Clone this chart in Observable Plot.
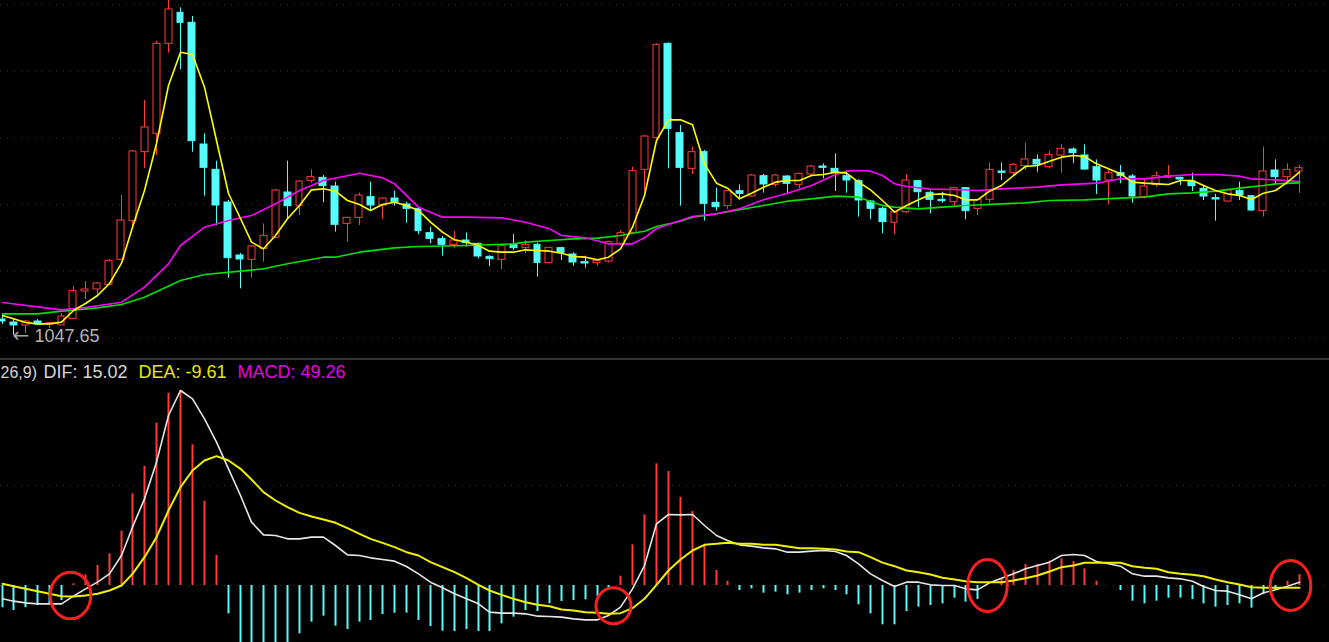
<!DOCTYPE html>
<html><head><meta charset="utf-8">
<script src="https://cdn.jsdelivr.net/npm/d3@7"></script>
<script src="https://cdn.jsdelivr.net/npm/@observablehq/plot@0.6"></script>
<style>
html,body{margin:0;padding:0;background:#000;overflow:hidden}
#wrap{width:1329px;height:642px;background:#000;overflow:hidden}
#wrap svg{display:block}
.sep{height:2px;background:#333}
</style></head>
<body><div id="wrap"></div>
<script>
// ---- candles (one per session, index 0..109)
const open = [1071.5,1067,1062.5,1068.5,1064,1062.5,1072.5,1113.5,1116.5,1123.5, 1161,1219,1322.5,1350,1485,1531.5,1516.5,1334,1296,1247, 1167.5,1161,1177.5,1194,1262,1241.5,1279.5,1284,1271,1215, 1224,1255,1242.5,1253,1244,1237.5,1201,1192,1183.5,1190, 1185,1165.5,1161,1183.5,1178.5,1183.5,1156,1178.5,1169,1157.5, 1156,1158.5,1185,1201.5,1296,1343.5,1485,1351,1297.5,1322.5, 1246.5,1241.5,1264,1256,1286.5,1273.5,1286,1273.5,1289,1301, 1297.5,1286.5,1279,1248.5,1237.5,1216.5,1232.5,1279,1261.5,1251, 1247.5,1268.5,1237.5,1251,1293.5,1291,1301.5,1311,1300,1317.5, 1326.5,1317.5,1300,1280,1291,1286,1255,1273.5,1284,1284, 1278.5,1267.5,1253.5,1248.5,1264,1256.5,1234,1295,1285,1293.5];
const high = [1079,1073,1070,1071.5,1067,1080.5,1121,1128.5,1127,1161.5, 1257.5,1325,1400,1489,1555,1539,1526,1350,1309,1250, 1170.5,1182.5,1215,1266,1309,1280,1296,1287.5,1277.5,1225, 1261,1277.5,1254,1264,1247.5,1240,1210,1196,1203.5,1201.5, 1186,1167,1182.5,1199,1190,1186,1180,1180,1171.5,1166.5, 1161.5,1189,1205,1300,1347.5,1485,1486.5,1362.5,1330,1325, 1268.5,1265,1273.5,1289,1289,1289,1287.5,1291,1302.5,1305, 1320,1292.5,1281,1250,1240,1234,1289,1280,1264,1262.5, 1270,1269.5,1251.5,1306.5,1306.5,1305.5,1336,1318.5,1324,1333.5, 1329,1333.5,1311,1295,1302.5,1289,1280,1292.5,1302.5,1285, 1291,1271,1259,1267.5,1277.5,1257.5,1330,1311,1305,1302.5];
const low = [1064,1047.65,1050.5,1062.5,1058,1062.5,1072.5,1101.5,1107.5,1122.5, 1160,1208,1298,1317.5,1471,1446,1322.5,1256.5,1212,1133.5, 1117.5,1133.5,1157.5,1192.5,1221.5,1227.5,1276,1246.5,1202.5,1187.5, 1212.5,1233.5,1221,1241.5,1216,1198.5,1185,1166.5,1177.5,1180, 1162.5,1151,1146.5,1175,1170,1135,1155,1160,1151.5,1148.5, 1151.5,1156,1182.5,1200,1262.5,1342.5,1297.5,1241.5,1289,1219, 1234,1236.5,1251,1255,1261,1270,1260,1267.5,1287.5,1282.5, 1263.5,1261,1225,1221,1200,1198.5,1230,1239,1230,1246, 1242.5,1221,1227.5,1245,1280,1285,1295,1292.5,1297.5,1291, 1305,1295,1259,1243.5,1275,1246,1252.5,1270,1282.5,1272.5, 1263.5,1250,1219,1247.5,1250,1234,1225,1273.5,1280,1261];
const close = [1068.5,1062.5,1068.5,1064,1066,1076,1114,1116.5,1125.5,1159, 1220,1323.5,1359.5,1485,1536.5,1516.5,1339,1299,1242.5,1163.5, 1161.5,1181,1197,1265,1241.5,1278.5,1285,1271.5,1213.5,1224, 1257.5,1242.5,1253,1247.5,1237.5,1204,1192.5,1183.5,1190,1186, 1166,1162,1181.5,1178.5,1183.5,1156.5,1179,1171.5,1157,1155.5, 1159.5,1187.5,1201,1294,1346,1483.5,1357.5,1299,1322.5,1245, 1240,1264,1260,1287.5,1274,1287.5,1275,1290,1301,1299, 1291,1280,1250,1237.5,1217.5,1232.5,1280,1262.5,1251,1249, 1268.5,1234,1251,1296,1291.5,1303.5,1311.5,1304,1318.5,1327.5, 1321,1296.5,1280,1291,1286.5,1256,1271,1286.5,1286.5,1281.5, 1271.5,1256,1251.5,1265,1257.5,1235,1293.5,1285,1296,1298.5];

// ---- moving averages
const ma5 = [1077.5,1072.5,1067,1065,1065,1067.5,1085,1095.5,1107.5,1125.5, 1156,1210,1265,1335.5,1422.5,1472.5,1469,1420,1340,1260.5, 1223,1187.5,1177.5,1197.5,1222.5,1242.5,1266,1267.5,1264,1250, 1244,1235,1244,1247.5,1242.5,1235,1217.5,1202.5,1191,1187.5, 1182.5,1174,1172.5,1172.5,1176,1175,1174,1171,1166,1165, 1161,1165,1177.5,1210,1257.5,1340,1371,1371,1363.5,1305, 1276,1268.5,1252.5,1261,1270,1277.5,1280,1280,1287.5,1289, 1292.5,1291,1277.5,1266,1250,1232.5,1242.5,1251,1259,1260, 1257.5,1251,1251,1264,1272.5,1287.5,1301,1302.5,1309,1315, 1317.5,1316,1305,1297.5,1290,1277.5,1276,1275,1274,1280, 1280,1272.5,1265,1260,1257.5,1251.5,1261,1265,1277.5,1292.5];
const maMidIdx = [0,5,7,10,12,14,15,17,19,21,23,25,27,30,32,33,35,37,39,42,44,46,47,49,51,53,54,55,58,60,62,64,66,68,70,71,72,73,74,75,76,78,80,82,84,87,89,92,94,96,98,100,102,104,105,107,109];
const maMidVal = [1097,1086,1089.5,1097.5,1120,1155,1182.5,1210,1220,1227.5,1245,1265,1280,1291,1284,1275,1240,1225,1225,1224,1217.5,1207.5,1197.5,1194,1185,1185,1194,1208,1226,1230,1237.5,1251,1261,1272.5,1289,1294,1295,1294,1287.5,1275,1271,1267,1266.5,1265,1267.5,1270,1273.5,1276,1282.5,1282.5,1286.5,1289,1289,1286.5,1282.5,1281,1278.5];
const maLongIdx = [0,3,5,8,10,12,15,17,20,22,24,27,28,30,33,35,39,43,44,46,48,50,52,53,54,55,57,58,60,62,64,66,68,70,72,73,74,75,77,79,81,84,86,88,91,94,96,98,100,102,104,106,107,109];
const maLongVal = [1080,1080,1084,1089,1094,1105,1130,1139,1144,1147.5,1155,1165,1165,1172.5,1179,1181,1182.5,1185,1187.5,1190,1192.5,1193.5,1197.5,1201,1204,1211,1219,1225,1230,1236,1242.5,1249,1252.5,1256.5,1255,1248.5,1242.5,1240,1237.5,1240,1242.5,1245,1246.5,1250,1251,1253.5,1255,1260,1261.5,1264,1268.5,1272.5,1275,1276.5];
const priceGrid = [1044,1144,1244,1344,1444,1544];

// ---- MACD(12,26,9)
const dif = [-60,-70.5,-78,-82.5,-82.5,-82.5,-48,-15,15,52.5, 135,262.5,390,555,765,877.5,840,750,645,525, 405,285,228,225,210,210,217.5,217.5,180,138, 135,124.5,117,109.5,85.5,52.5,15,-10.5,-37.5,-60, -82.5,-120,-124.5,-124.5,-127.5,-138,-139.5,-142.5,-150,-154.5, -154.5,-135,-97.5,-15,90,277.5,319.5,318,319.5,270, 225,202.5,183,177,169.5,165,150,150,154.5,157.5, 153,135,97.5,52.5,22.5,-4.5,15,15,3,0, 0,-15,-19.5,12,33,52.5,75,90,105,135, 139.5,135,108,97.5,87,52.5,42,42,34.5,30, 19.5,-4.5,-22.5,-25.5,-42,-60,-33,-19.5,-3,15.02];
const dea = [7.5,-3,-15,-25.5,-37.5,-48,-49.5,-45,-37.5,-22.5, 0,52.5,127.5,217.5,337.5,442.5,517.5,562.5,582,562.5, 525,477,420,382.5,352.5,327,310.5,297,282,258, 232.5,210,192,172.5,150,135,105,82.5,60,33, 3,-22.5,-42,-60,-75,-87,-93,-108,-112.5,-120, -123,-127.5,-124.5,-102,-60,3,67.5,117,157.5,183, 187.5,192,187.5,187.5,183,183,175.5,168,168,165, 162,153,150,127.5,103,87,67.5,60,49.5,34.5, 27,19.5,15,15,15,22.5,33,45,63,82.5, 90,102,102,102,102,87,79.5,75,60,52.5, 48,42,27,15,4.5,-7.5,-10.5,-10.5,-10.5,-9.61];
const macd = [-100,-112.5,-100,-90,-82.5,-67.5,7.5,48,90,142.5, 244.5,412.5,535.5,730.5,865.5,877.5,633,379.5,135,-127.5, -270,-324,-369,-324,-283.5,-217.5,-165,-138,-183,-198, -165,-157.5,-130.5,-124.5,-124.5,-157.5,-184.5,-205.5,-207,-198, -207,-207,-172.5,-142.5,-112.5,-117,-82.5,-72,-67.5,-64.5, -48,-10.5,42,183,318,547.5,513,397.5,333,183, 67.5,19.5,-22.5,-15,-34.5,-30,-42,-34.5,-22.5,-15, -22.5,-42,-87,-127.5,-177,-177,-117,-97.5,-90,-82.5, -57,-75,-63,0,27,67.5,94.5,94.5,109.5,120, 108,75,19.5,0,-22.5,-70.5,-82.5,-70.5,-57,-57, -63,-82.5,-97.5,-90,-82.5,-102,-40.5,-19.5,19.5,49.26];
const macdGrid = [0, 450];
// golden-cross annotations (index, MACD value)
const crossIdx = [5.73, 51.35, 82.8, 108.3];
const crossVal = [-45, -91, 0, 0];

// ---- build tables
const RED = "#ff3b3b", CYAN = "#54fcfc";
const N = open.length;
const idx = d3.range(N);
const candles = idx.map(i => ({i, o: open[i], h: high[i], l: low[i], c: close[i]}));
const ups = candles.filter(d => d.c >= d.o);
const downs = candles.filter(d => d.c < d.o);
const ma5Data = idx.map(i => ({i, v: ma5[i]}));
const midData = maMidIdx.map((i, k) => ({i, v: maMidVal[k]}));
const longData = maLongIdx.map((i, k) => ({i, v: maLongVal[k]}));
const difData = idx.map(i => ({i, v: dif[i]}));
const deaData = idx.map(i => ({i, v: dea[i]}));
const histData = idx.map(i => ({i, v: macd[i]}));
const crosses = crossIdx.map((i, k) => ({i, v: crossVal[k]}));
const minI = d3.minIndex(low);

const W = 1329, STEP = 11.9, X0 = 1.5;
const xDomain = [(0 - X0) / STEP, (W - X0) / STEP];
const FONT = "'Liberation Sans', Arial, sans-serif";
const HW = 0.29;

function ellipse(k) {
  return {
    draw(ctx, size) {
      const rx = Math.sqrt(size / Math.PI), ry = rx * k, c = 0.5523;
      ctx.moveTo(rx, 0);
      ctx.bezierCurveTo(rx, c * ry, c * rx, ry, 0, ry);
      ctx.bezierCurveTo(-c * rx, ry, -rx, c * ry, -rx, 0);
      ctx.bezierCurveTo(-rx, -c * ry, -c * rx, -ry, 0, -ry);
      ctx.bezierCurveTo(c * rx, -ry, rx, -c * ry, rx, 0);
      ctx.closePath();
    }
  };
}

const pricePlot = Plot.plot({
  width: W, height: 358, margin: 0,
  style: {background: "#000", fontFamily: FONT, overflow: "hidden"},
  x: {domain: xDomain, axis: null, round: true},
  y: {domain: [1013, 1550], axis: null},
  marks: [
    Plot.ruleY(priceGrid, {stroke: "#333", strokeDasharray: "1,6"}),
    Plot.ruleX(ups, {x: "i", y1: "l", y2: "h", stroke: RED}),
    Plot.ruleX(downs, {x: "i", y1: "l", y2: "h", stroke: CYAN}),
    Plot.rect(ups, {x1: d => d.i - HW, x2: d => d.i + HW, y1: "o", y2: "c", fill: "#000", stroke: RED}),
    Plot.rect(downs, {x1: d => d.i - HW, x2: d => d.i + HW, y1: "o", y2: "c", fill: CYAN, stroke: CYAN}),
    Plot.line(longData, {x: "i", y: "v", stroke: "#00e000", strokeWidth: 1.6}),
    Plot.line(midData, {x: "i", y: "v", stroke: "#ff00ff", strokeWidth: 1.6}),
    Plot.line(ma5Data, {x: "i", y: "v", stroke: "#ffff00", strokeWidth: 1.6}),
    Plot.text([{i: minI, v: low[minI]}], {x: "i", y: "v", text: () => "←",
      textAnchor: "start", lineAnchor: "middle", dx: -1, dy: 0, fill: "#a0a0a0", fontSize: 20, fontFamily: "'DejaVu Sans', sans-serif"}),
    Plot.text([{i: minI, v: low[minI]}], {x: "i", y: "v", text: d => d.v.toFixed(2),
      textAnchor: "start", lineAnchor: "middle", dx: 21, dy: 1, fill: "#b4b4b4", fontSize: 18})
  ]
});

const macdPlot = Plot.plot({
  width: W, height: 282, margin: 0,
  style: {background: "#000", fontFamily: FONT, overflow: "hidden"},
  x: {domain: xDomain, axis: null, round: true},
  y: {domain: [-256.5, 1012.5], axis: null},
  marks: [
    Plot.ruleY(macdGrid, {stroke: "#333", strokeDasharray: "1,6"}),
    Plot.ruleX(histData.filter(d => d.v > 0), {x: "i", y1: 0, y2: "v", stroke: RED, strokeWidth: 2}),
    Plot.ruleX(histData.filter(d => d.v < 0), {x: "i", y1: 0, y2: "v", stroke: CYAN, strokeWidth: 2}),
    Plot.line(difData, {x: "i", y: "v", stroke: "#e6e6e6", strokeWidth: 1.6}),
    Plot.line(deaData, {x: "i", y: "v", stroke: "#f0f000", strokeWidth: 2}),
    Plot.dot([crosses[0]], {x: "i", y: "v", r: 20.3, symbol: ellipse(1.15), stroke: "#ff1e1e", strokeWidth: 3, fill: "none"}),
    Plot.dot([crosses[1]], {x: "i", y: "v", r: 17.5, symbol: ellipse(1.03), stroke: "#ff1e1e", strokeWidth: 3, fill: "none"}),
    Plot.dot([crosses[2]], {x: "i", y: "v", r: 19.7, symbol: ellipse(1.32), stroke: "#ff1e1e", strokeWidth: 3, fill: "none"}),
    Plot.dot([crosses[3]], {x: "i", y: "v", r: 20.3, symbol: ellipse(1.23), stroke: "#ff1e1e", strokeWidth: 3, fill: "none"}),
    Plot.text(["26,9)"], {frameAnchor: "top-left", text: d => d, dx: 0, dy: 6, lineAnchor: "top", textAnchor: "start", fill: "#d6d6d6", fontSize: 16}),
    Plot.text([dif[N - 1]], {frameAnchor: "top-left", text: d => "DIF: " + d.toFixed(2), dx: 43, dy: 5, lineAnchor: "top", textAnchor: "start", fill: "#d6d6d6", fontSize: 18}),
    Plot.text([dea[N - 1]], {frameAnchor: "top-left", text: d => "DEA: " + d.toFixed(2), dx: 138, dy: 5, lineAnchor: "top", textAnchor: "start", fill: "#e8e800", fontSize: 18}),
    Plot.text([macd[N - 1]], {frameAnchor: "top-left", text: d => "MACD: " + d.toFixed(2), dx: 237, dy: 5, lineAnchor: "top", textAnchor: "start", fill: "#e800e8", fontSize: 18})
  ]
});

const wrap = document.getElementById("wrap");
wrap.appendChild(pricePlot);
const sep = document.createElement("div");
sep.className = "sep";
wrap.appendChild(sep);
wrap.appendChild(macdPlot);
</script>
</body></html>
